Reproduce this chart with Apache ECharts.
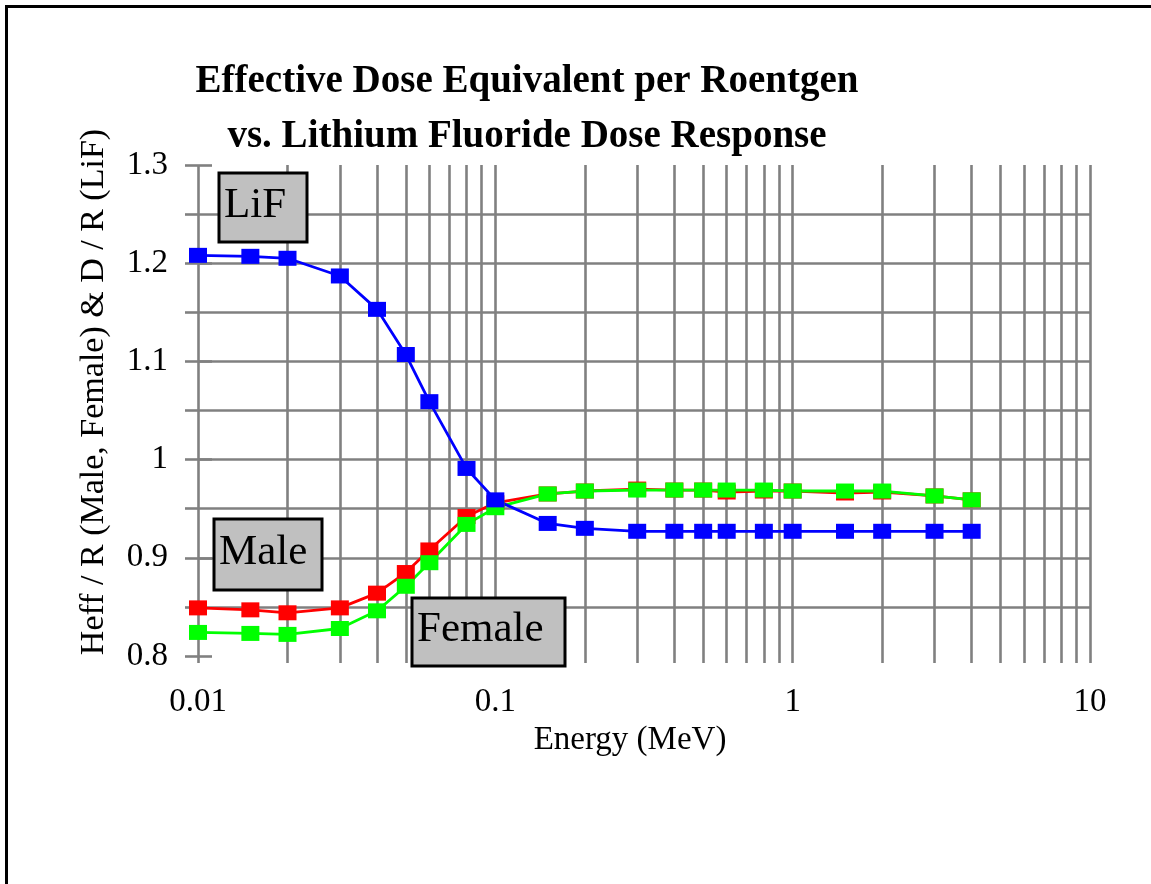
<!DOCTYPE html>
<html>
<head>
<meta charset="utf-8">
<title>Effective Dose Equivalent per Roentgen</title>
<script src="https://cdn.jsdelivr.net/npm/echarts@6/dist/echarts.min.js"></script>
<style>
  html, body { margin: 0; padding: 0; background: #fff; }
  #chart { width: 1151px; height: 884px; }
</style>
</head>
<body>
<div id="chart"></div>
<script>
// photon energy (MeV)
const energy = [0.01, 0.015, 0.02, 0.03, 0.04, 0.05, 0.06, 0.08, 0.1, 0.15, 0.2,
                0.3, 0.4, 0.5, 0.6, 0.8, 1, 1.5, 2, 3, 4];
// Heff / R, male phantom
const male = [0.849, 0.847, 0.844, 0.849, 0.864, 0.885, 0.908, 0.942, 0.956, 0.965, 0.968,
              0.970, 0.969, 0.969, 0.967, 0.968, 0.968, 0.966, 0.967, 0.963, 0.959];
// Heff / R, female phantom
const female = [0.824, 0.823, 0.822, 0.828, 0.846, 0.871, 0.895, 0.934, 0.951, 0.965, 0.968,
                0.969, 0.969, 0.969, 0.969, 0.969, 0.968, 0.968, 0.968, 0.963, 0.959];
// D / R, lithium fluoride
const lif = [1.208, 1.207, 1.205, 1.187, 1.153, 1.107, 1.059, 0.991, 0.959, 0.935, 0.930,
             0.927, 0.927, 0.927, 0.927, 0.927, 0.927, 0.927, 0.927, 0.927, 0.927];

// vertical grid lines of the log axis (1..9 per decade)
const gridX = [0.01, 0.02, 0.03, 0.04, 0.05, 0.06, 0.07, 0.08, 0.09,
               0.1, 0.2, 0.3, 0.4, 0.5, 0.6, 0.7, 0.8, 0.9,
               1, 2, 3, 4, 5, 6, 7, 8, 9, 10];
const Y_MIN = 0.8, Y_MAX = 1.3, Y_STEP = 0.1;

const titleLines = ['Effective Dose Equivalent per Roentgen', 'vs. Lithium Fluoride Dose Response'];
const yName = 'Heff / R (Male, Female) & D / R (LiF)';
const xName = 'Energy (MeV)';

const FONT = '"Liberation Serif", "Times New Roman", serif';
const GRID_COLOR = '#808080';
const GRID_W = 2.6;

const chart = echarts.init(document.getElementById('chart'), null, { renderer: 'canvas' });

function pairs(ys) {
  return energy.map((x, i) => [x, ys[i]]);
}

function seriesOf(name, ys, color) {
  return {
    name,
    type: 'line',
    data: pairs(ys),
    symbol: 'rect',
    symbolSize: [18, 15],
    showSymbol: true,
    itemStyle: { color },
    lineStyle: { color, width: 2.8 },
    emphasis: { disabled: true },
    z: 3
  };
}

// invisible carrier series for the vertical grid lines (markLine on log x)
function gridLines(gridIndex) {
  return {
    name: 'vgrid' + gridIndex,
    type: 'line',
    xAxisIndex: gridIndex,
    yAxisIndex: gridIndex === 0 ? 0 : 2,
    data: [[1, gridIndex === 0 ? 1 : 0.5]],
    symbol: 'none',
    lineStyle: { opacity: 0 },
    silent: true,
    z: 1,
    markLine: {
      z: 1,
      silent: true,
      animation: false,
      symbol: ['none', 'none'],
      label: { show: false },
      emphasis: { disabled: true },
      lineStyle: { color: GRID_COLOR, width: GRID_W, type: 'solid' },
      data: gridX.map(v => ({ xAxis: v }))
    }
  };
}

function labelBox(text, x, y, w, h) {
  return {
    type: 'group',
    x, y,
    z: 100,
    children: [
      { type: 'rect', z: 100, shape: { x: 0, y: 0, width: w, height: h },
        style: { fill: '#c0c0c0', stroke: '#000', lineWidth: 3 } },
      { type: 'text', z: 101, x: 5, y: h / 2 - 2,
        style: { text, font: '43px ' + FONT, fill: '#000', textAlign: 'left', textVerticalAlign: 'middle' } }
    ]
  };
}

const axisFont = { fontSize: 33, color: '#000', fontFamily: FONT };

const option = {
  animation: false,
  backgroundColor: '#fff',
  textStyle: { fontFamily: FONT },
  grid: [
    { left: 198, right: 61, top: 165, bottom: 228, outerBoundsMode: 'none', containLabel: false },
    // thin strip under the plot: the vertical lines poke out as ticks
    { left: 198, right: 61, top: 656, height: 7, outerBoundsMode: 'none', containLabel: false }
  ],
  xAxis: [{
    type: 'log',
    logBase: 10,
    min: 0.01,
    max: 10,
    axisLine: { show: false },
    axisTick: { show: false },
    splitLine: { show: false },
    axisLabel: { show: false }
  }, {
    type: 'log',
    gridIndex: 1,
    logBase: 10,
    min: 0.01,
    max: 10,
    axisLine: { show: false },
    axisTick: { show: false },
    splitLine: { show: false },
    axisLabel: Object.assign({ margin: 23 }, axisFont),
    name: xName,
    nameLocation: 'middle',
    nameGap: 61,
    nameTextStyle: Object.assign({ padding: [0, 28, 0, 0] }, axisFont)
  }],
  yAxis: [{
    type: 'value',
    min: Y_MIN,
    max: Y_MAX,
    interval: Y_STEP,
    axisLine: { show: false },
    axisTick: { show: true, inside: false, length: 13, lineStyle: { color: GRID_COLOR, width: GRID_W } },
    minorTick: { show: true, splitNumber: 2, length: 13, lineStyle: { color: GRID_COLOR, width: GRID_W } },
    splitLine: { show: true, showMinLine: false, showMaxLine: false, lineStyle: { color: GRID_COLOR, width: GRID_W } },
    minorSplitLine: { show: true, lineStyle: { color: GRID_COLOR, width: GRID_W } },
    axisLabel: Object.assign({ margin: 30 }, axisFont)
  }, {
    // inner half of the crossing ticks
    type: 'value',
    position: 'left',
    min: Y_MIN,
    max: Y_MAX,
    interval: Y_STEP,
    axisLine: { show: false },
    axisLabel: { show: false },
    splitLine: { show: false },
    axisTick: { show: true, inside: true, length: 14, lineStyle: { color: GRID_COLOR, width: GRID_W } }
  }, {
    type: 'value',
    gridIndex: 1,
    min: 0,
    max: 1,
    show: false
  }],
  series: [
    gridLines(0),
    gridLines(1),
    seriesOf('Male', male, '#ff0000'),
    seriesOf('Female', female, '#00ff00'),
    seriesOf('LiF', lif, '#0000ff')
  ],
  graphic: [
    // outer frame
    { type: 'rect', z: 100, shape: { x: 6.5, y: 6.5, width: 1300, height: 1000 },
      style: { fill: 'none', stroke: '#000', lineWidth: 3 } },
    { type: 'text', x: 527, y: 82, z: 100,
      style: { text: titleLines[0], font: 'bold 39px ' + FONT, fill: '#000', textAlign: 'center', textVerticalAlign: 'middle' } },
    { type: 'text', x: 527, y: 137, z: 100,
      style: { text: titleLines[1], font: 'bold 39px ' + FONT, fill: '#000', textAlign: 'center', textVerticalAlign: 'middle' } },
    { type: 'text', x: 94, y: 392, rotation: Math.PI / 2, z: 100,
      style: { text: yName, font: '34px ' + FONT, fill: '#000', textAlign: 'center', textVerticalAlign: 'middle' } },
    labelBox('LiF', 219, 173, 88, 69),
    labelBox('Male', 214, 519, 108, 71),
    labelBox('Female', 412, 598, 153, 68)
  ]
};

chart.setOption(option);
</script>
</body>
</html>
